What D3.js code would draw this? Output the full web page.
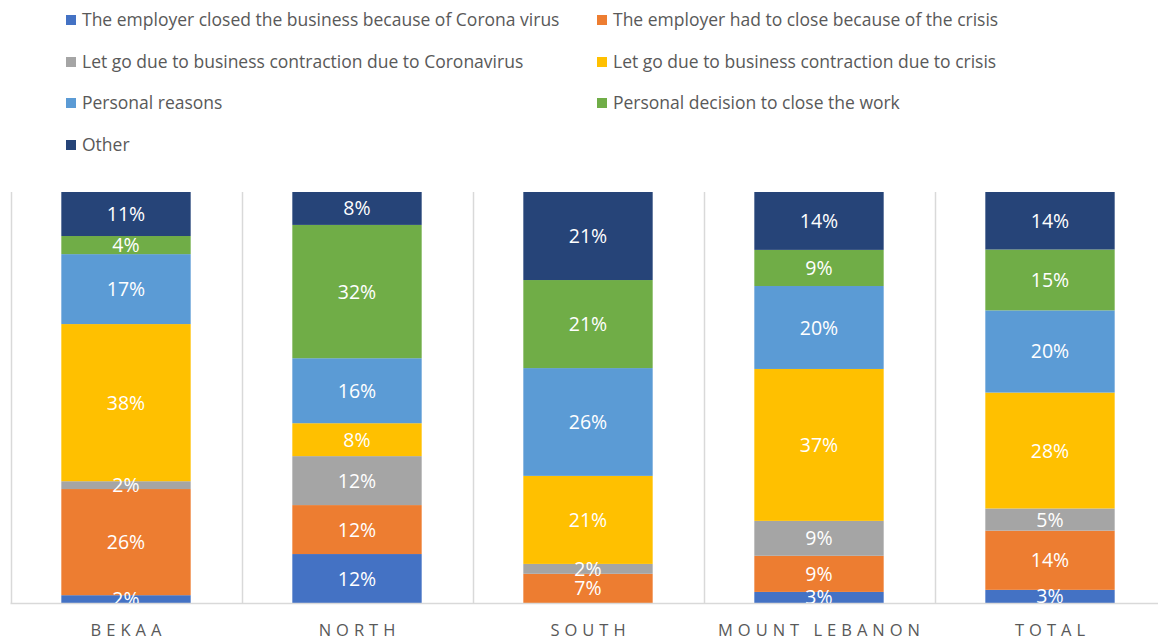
<!DOCTYPE html>
<html>
<head>
<meta charset="utf-8">
<script src="https://cdn.jsdelivr.net/npm/d3@7"></script>
<style>
  html, body { margin: 0; padding: 0; background: #fff; }
  svg { display: block; font-family: "Open Sans", "Liberation Sans", sans-serif; }
</style>
</head>
<body>
<svg id="chart" width="1158" height="642"></svg>
<script>
// Regions shown along the x axis
const regions = ["BEKAA", "NORTH", "SOUTH", "MOUNT LEBANON", "TOTAL"];

// Reasons for losing work, bottom to top of each stack
const reasons = [
  "The employer closed the business because of Corona virus",
  "The employer had to close because of the crisis",
  "Let go due to business contraction due to Coronavirus",
  "Let go due to business contraction due to crisis",
  "Personal reasons",
  "Personal decision to close the work",
  "Other"
];

// Share (%) of each reason per region, in the order of `regions`
const closedCorona     = [1.9, 11.9, 0.0, 2.7, 3.2];
const closedCrisis     = [25.8, 11.9, 7.1, 8.8, 14.4];
const letGoCorona      = [1.9, 11.9, 2.4, 8.5, 5.4];
const letGoCrisis      = [38.2, 8.0, 21.4, 37.0, 28.2];
const personalReasons  = [17.0, 15.8, 26.2, 20.2, 20.0];
const personalDecision = [4.4, 32.4, 21.4, 8.8, 14.8];
const other            = [10.7, 8.0, 21.4, 14.1, 14.0];

const colors = ["#4472C4", "#ED7D31", "#A5A5A5", "#FFC000", "#5B9BD5", "#70AD47", "#264478"];

const seriesValues = [closedCorona, closedCrisis, letGoCorona, letGoCrisis,
                      personalReasons, personalDecision, other];

const rows = regions.map((r, i) => {
  const row = { region: r };
  reasons.forEach((k, j) => { row[k] = seriesValues[j][i]; });
  return row;
});

const svg = d3.select("#chart");
const margin = { top: 192, bottom: 39, left: 10.5 };
const plotBottom = 642 - margin.bottom;
const bandWidth = 231;

const x = d3.scaleBand()
  .domain(regions)
  .range([margin.left, margin.left + bandWidth * regions.length])
  .paddingInner(0.44)
  .paddingOuter(0.22);

const y = d3.scaleLinear().domain([0, 1]).range([plotBottom, margin.top]);

const stack = d3.stack().keys(reasons).offset(d3.stackOffsetExpand);
const layers = stack(rows);

// Vertical separators between categories
const seps = d3.range(regions.length).map(i => margin.left + i * bandWidth);
svg.append("g").selectAll("line").data(seps).join("line")
  .attr("x1", d => Math.round(d) + 0.5).attr("x2", d => Math.round(d) + 0.5)
  .attr("y1", margin.top).attr("y2", plotBottom)
  .attr("stroke", "#d9d9d9").attr("stroke-width", 1.5);

// Bars
const g = svg.append("g");
g.selectAll("g.layer").data(layers).join("g")
  .attr("class", "layer")
  .attr("fill", (d, i) => colors[i])
  .selectAll("rect").data(d => d).join("rect")
  .attr("x", d => x(d.data.region))
  .attr("width", x.bandwidth())
  .attr("y", d => y(d[1]))
  .attr("height", d => y(d[0]) - y(d[1]));

// Bottom axis line
svg.append("line")
  .attr("x1", margin.left).attr("x2", 1158)
  .attr("y1", plotBottom + 0.5).attr("y2", plotBottom + 0.5)
  .attr("stroke", "#d9d9d9").attr("stroke-width", 1.5);

// Data labels, clipped to the plot area
svg.append("clipPath").attr("id", "plotClip")
  .append("rect").attr("x", 0).attr("y", margin.top)
  .attr("width", 1158).attr("height", plotBottom - margin.top);

const labels = svg.append("g").attr("clip-path", "url(#plotClip)");
layers.forEach((layer, i) => {
  labels.selectAll(null).data(layer.filter(d => d.data[layer.key] > 0)).join("text")
    .attr("x", d => x(d.data.region) + x.bandwidth() / 2)
    .attr("y", d => (y(d[0]) + y(d[1])) / 2)
    .attr("dy", "0.36em")
    .attr("text-anchor", "middle")
    .attr("fill", "#ffffff")
    .attr("font-size", 19.5)
    .text(d => Math.round(d.data[layer.key]) + "%");
});

// Category axis labels
const xAxis = d3.axisBottom(x).tickSize(0).tickPadding(0);
const ax = svg.append("g").attr("transform", `translate(0,${plotBottom})`).call(xAxis);
ax.select(".domain").remove();
ax.selectAll("text")
  .attr("y", 27)
  .attr("dy", "0.36em")
  .attr("fill", "#595959")
  .attr("font-size", 16.5)
  .attr("font-family", "'Open Sans', sans-serif")
  .attr("letter-spacing", "5px")
  .attr("dx", "2.5px");

// Legend, two columns
const legendCols = [66, 597];
const legendRows = [20, 62, 103, 145];
const legend = svg.append("g");
reasons.forEach((name, i) => {
  const lx = legendCols[i % 2], ly = legendRows[Math.floor(i / 2)];
  const item = legend.append("g").attr("transform", `translate(${lx},${ly})`);
  item.append("rect").attr("x", 0).attr("y", -5).attr("width", 10).attr("height", 10)
    .attr("fill", colors[i]);
  item.append("text").attr("x", 16).attr("dy", "0.36em")
    .attr("fill", "#595959").attr("font-size", 17.5)
    .text(name);
});
</script>
</body>
</html>
